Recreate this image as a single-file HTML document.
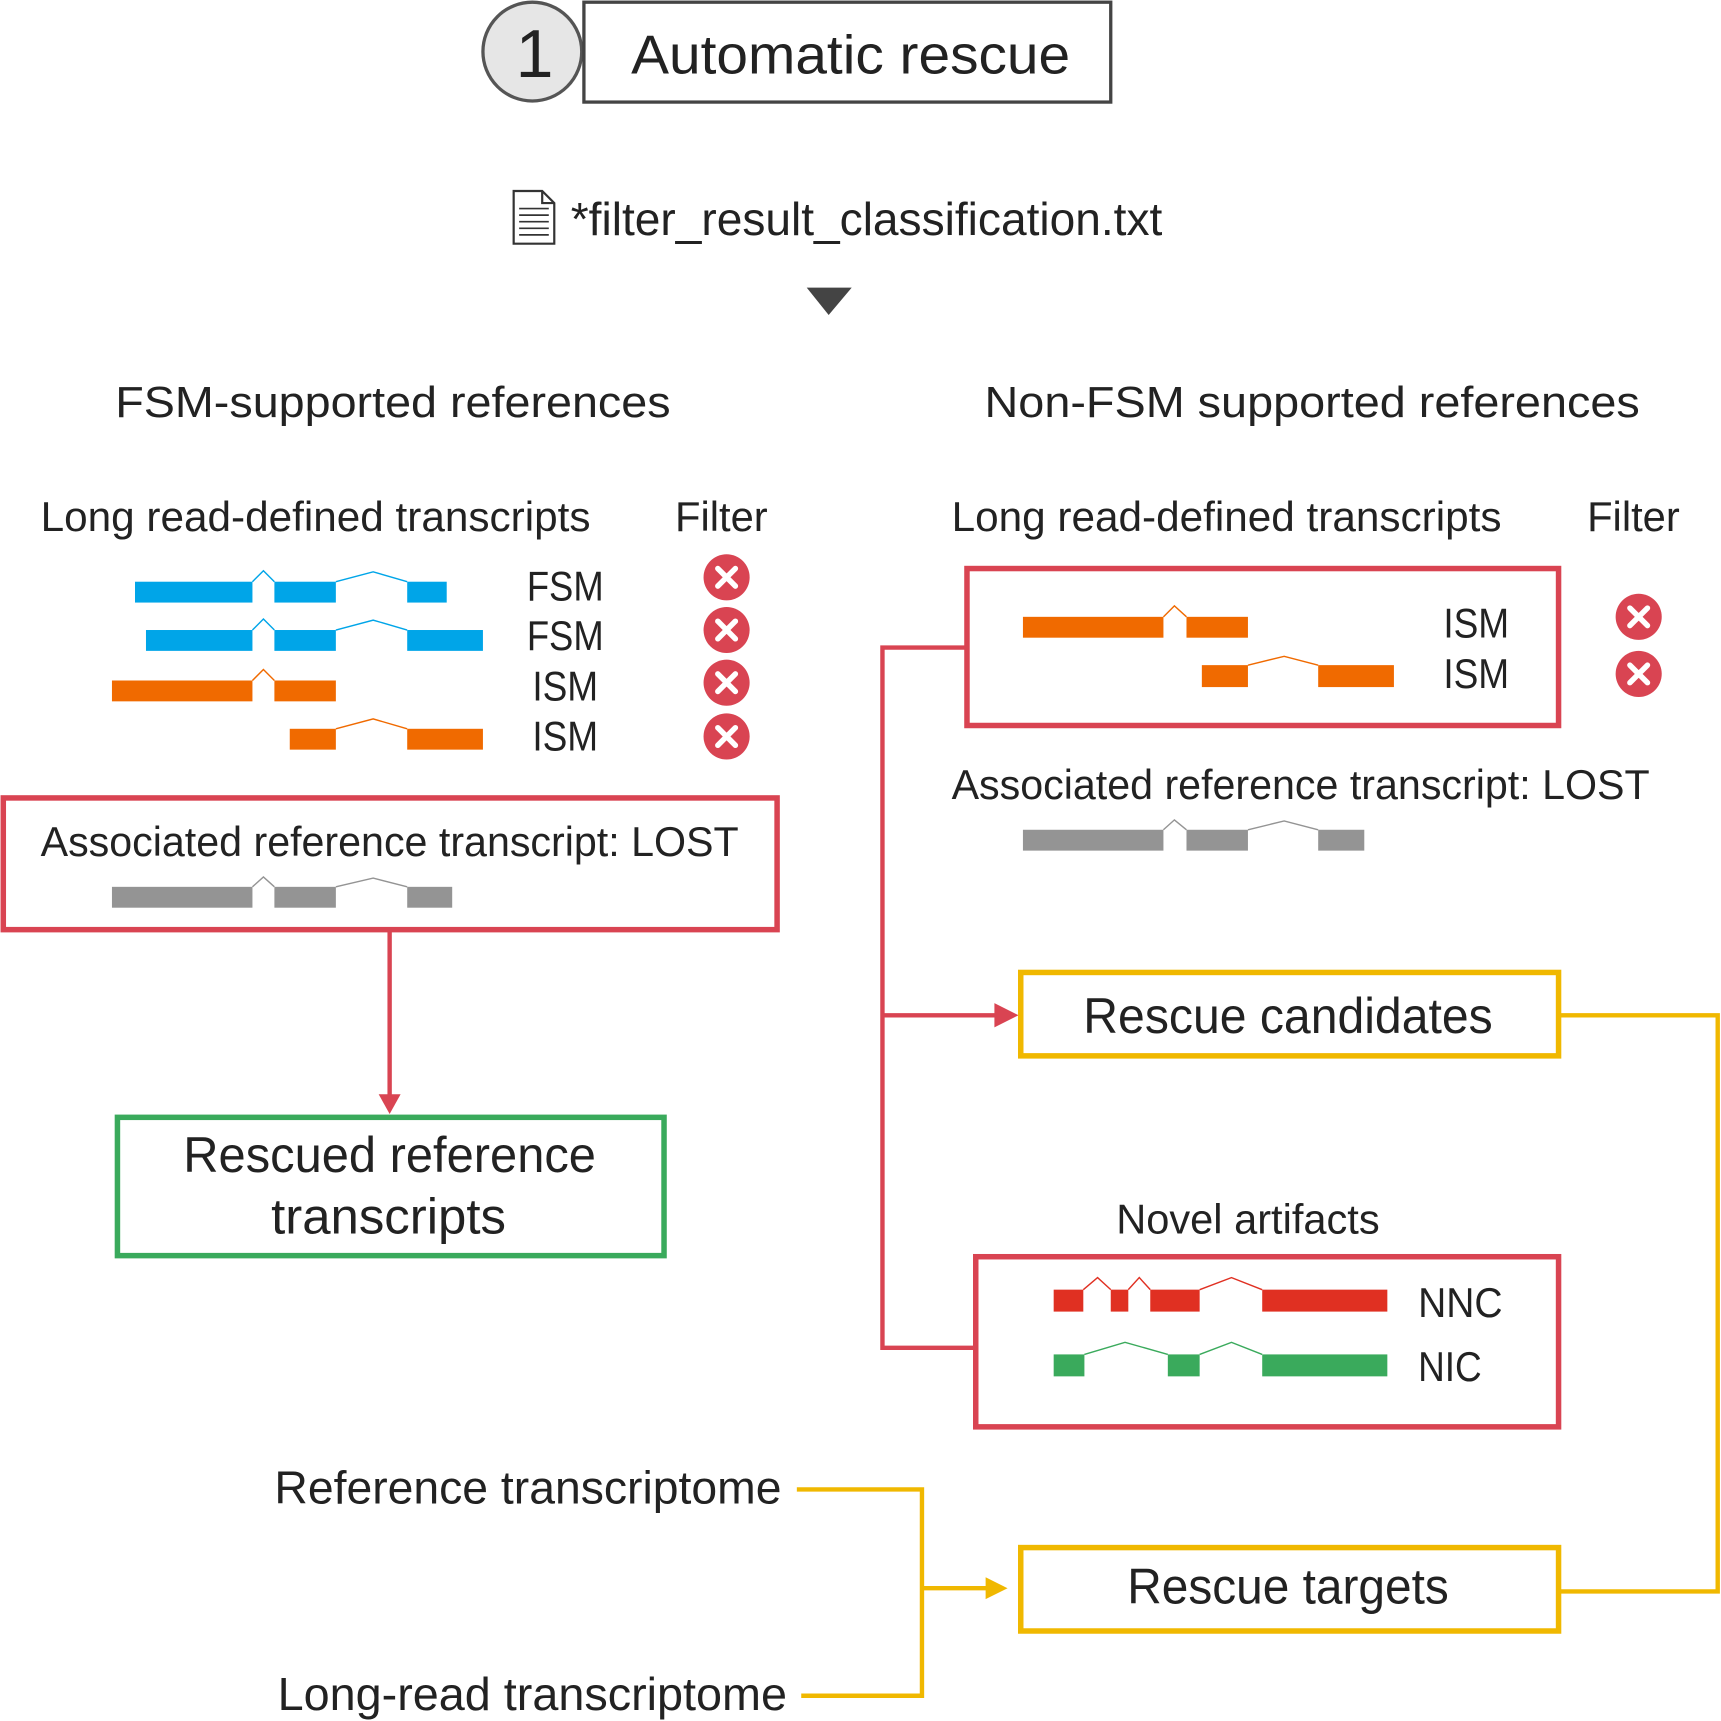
<!DOCTYPE html>
<html><head><meta charset="utf-8"><style>
html,body{margin:0;padding:0;background:#fff}
svg{display:block}
text{font-family:"Liberation Sans",sans-serif;fill:#222}
</style></head><body>
<svg width="1721" height="1721" viewBox="0 0 1568 1568" xmlns="http://www.w3.org/2000/svg">
<defs>
<g id="xi"><circle r="21" fill="#d94452"/><path d="M-8,-8L8,8M8,-8L-8,8" stroke="#fff" stroke-width="5" stroke-linecap="round"/></g>
</defs>
<!-- header -->
<circle cx="485" cy="47" r="45" fill="#e6e6e6" stroke="#555" stroke-width="3"/>
<text x="487" y="70" font-size="62" text-anchor="middle" fill="#333">1</text>
<rect x="532" y="2" width="480" height="91" fill="none" stroke="#444" stroke-width="3"/>
<text x="575" y="67" font-size="50" textLength="400" lengthAdjust="spacingAndGlyphs">Automatic rescue</text>
<!-- file icon -->
<path d="M468,174 H494 L505,185 V222 H468 Z" fill="#fff" stroke="#333" stroke-width="2"/>
<path d="M494,174 V185 H505" fill="none" stroke="#333" stroke-width="2"/>
<path d="M473,190H500M473,196H500M473,202H500M473,208H500M473,214H500" stroke="#333" stroke-width="1.5"/>
<text x="520" y="214" font-size="42" textLength="539" lengthAdjust="spacingAndGlyphs">*filter_result_classification.txt</text>
<path d="M735,262 L776,262 L755,287 Z" fill="#444"/>
<!-- headings -->
<text x="105" y="380" font-size="40" textLength="506" lengthAdjust="spacingAndGlyphs">FSM-supported references</text>
<text x="897" y="380" font-size="40" textLength="597" lengthAdjust="spacingAndGlyphs">Non-FSM supported references</text>
<text x="37" y="484" font-size="38" textLength="501" lengthAdjust="spacingAndGlyphs">Long read-defined transcripts</text>
<text x="615" y="484" font-size="38">Filter</text>
<text x="867" y="484" font-size="38" textLength="501" lengthAdjust="spacingAndGlyphs">Long read-defined transcripts</text>
<text x="1446" y="484" font-size="38">Filter</text>
<!-- left transcripts -->
<g fill="#00a5e8"><rect x="123" y="530" width="107" height="19"/><rect x="250" y="530" width="56" height="19"/><rect x="371" y="530" width="36" height="19"/>
<rect x="133" y="574" width="97" height="19"/><rect x="250" y="574" width="56" height="19"/><rect x="371" y="574" width="69" height="19"/></g>
<g fill="none" stroke="#00a5e8" stroke-width="1.3"><path d="M230,530L240,520L250,530M306,530L340,521L371,530M230,574L240,564L250,574M306,574L340,565L371,574"/></g>
<g fill="#f06a00"><rect x="102" y="620" width="128" height="19"/><rect x="250" y="620" width="56" height="19"/>
<rect x="264" y="664" width="42" height="19"/><rect x="371" y="664" width="69" height="19"/></g>
<g fill="none" stroke="#f06a00" stroke-width="1.3"><path d="M230,620L240,610L250,620M306,664L340,655L371,664"/></g>
<text x="480" y="547" font-size="38" textLength="70" lengthAdjust="spacingAndGlyphs">FSM</text><text x="480" y="592" font-size="38" textLength="70" lengthAdjust="spacingAndGlyphs">FSM</text>
<text x="485" y="638" font-size="38" textLength="60" lengthAdjust="spacingAndGlyphs">ISM</text><text x="485" y="684" font-size="38" textLength="60" lengthAdjust="spacingAndGlyphs">ISM</text>
<use href="#xi" x="662" y="526"/><use href="#xi" x="662" y="574"/><use href="#xi" x="662" y="622"/><use href="#xi" x="662" y="671"/>
<!-- left lost box -->
<rect x="3" y="727" width="705" height="120" fill="none" stroke="#d94452" stroke-width="5"/>
<text x="37" y="780" font-size="38" textLength="636" lengthAdjust="spacingAndGlyphs">Associated reference transcript: LOST</text>
<g fill="#949494"><rect x="102" y="808" width="128" height="19"/><rect x="250" y="808" width="56" height="19"/><rect x="371" y="808" width="41" height="19"/></g>
<path d="M230,808L240,799L250,808M306,808L340,800L371,808" fill="none" stroke="#949494" stroke-width="1.3"/>
<path d="M355,849V1000" stroke="#d94452" stroke-width="4"/>
<path d="M345,997L365,997L355,1015Z" fill="#d94452"/>
<rect x="107" y="1018" width="498" height="126" fill="none" stroke="#3aaa5c" stroke-width="5"/>
<text x="167" y="1068" font-size="46" textLength="376" lengthAdjust="spacingAndGlyphs">Rescued reference</text>
<text x="247" y="1124" font-size="46" textLength="214" lengthAdjust="spacingAndGlyphs">transcripts</text>
<!-- right -->
<rect x="881" y="518" width="539" height="143" fill="none" stroke="#d94452" stroke-width="5"/>
<g fill="#f06a00"><rect x="932" y="562" width="128" height="19"/><rect x="1081" y="562" width="56" height="19"/>
<rect x="1095" y="606" width="42" height="20"/><rect x="1201" y="606" width="69" height="20"/></g>
<path d="M1060,562L1070,552L1081,562M1137,606L1170,598L1201,606" fill="none" stroke="#f06a00" stroke-width="1.3"/>
<text x="1315" y="581" font-size="38" fill="#666" textLength="60" lengthAdjust="spacingAndGlyphs">ISM</text><text x="1315" y="627" font-size="38" fill="#666" textLength="60" lengthAdjust="spacingAndGlyphs">ISM</text>
<use href="#xi" x="1493" y="562"/><use href="#xi" x="1493" y="614"/>
<text x="867" y="728" font-size="38" textLength="636" lengthAdjust="spacingAndGlyphs">Associated reference transcript: LOST</text>
<g fill="#949494"><rect x="932" y="756" width="128" height="19"/><rect x="1081" y="756" width="56" height="19"/><rect x="1201" y="756" width="42" height="19"/></g>
<path d="M1060,756L1070,747L1081,756M1137,756L1170,748L1201,756" fill="none" stroke="#949494" stroke-width="1.3"/>
<path d="M881,590H804V1228H889" fill="none" stroke="#d94452" stroke-width="4"/>
<path d="M804,925H912" stroke="#d94452" stroke-width="4"/>
<path d="M906,914L928,925L906,936Z" fill="#d94452"/>
<rect x="930" y="886" width="490" height="76" fill="none" stroke="#f0b800" stroke-width="5"/>
<text x="987" y="941" font-size="46" textLength="373" lengthAdjust="spacingAndGlyphs">Rescue candidates</text>
<text x="1017" y="1124" font-size="38" textLength="240" lengthAdjust="spacingAndGlyphs">Novel artifacts</text>
<rect x="889" y="1145" width="531" height="155" fill="none" stroke="#d94452" stroke-width="5"/>
<g fill="#e03022"><rect x="960" y="1175" width="27" height="20"/><rect x="1012" y="1175" width="16" height="20"/><rect x="1048" y="1175" width="45" height="20"/><rect x="1150" y="1175" width="114" height="20"/></g>
<path d="M987,1175L1000,1164L1012,1175M1028,1175L1038,1164L1048,1175M1093,1175L1122,1164L1150,1175" fill="none" stroke="#e03022" stroke-width="1.3"/>
<g fill="#3aaa5c"><rect x="960" y="1234" width="28" height="20"/><rect x="1064" y="1234" width="29" height="20"/><rect x="1150" y="1234" width="114" height="20"/></g>
<path d="M988,1234L1025,1223L1064,1234M1093,1234L1122,1223L1150,1234" fill="none" stroke="#3aaa5c" stroke-width="1.3"/>
<text x="1292" y="1200" font-size="38" textLength="77" lengthAdjust="spacingAndGlyphs">NNC</text><text x="1292" y="1258" font-size="38" textLength="58" lengthAdjust="spacingAndGlyphs">NIC</text>
<path d="M1420,925H1565V1450H1420" fill="none" stroke="#f0b800" stroke-width="4"/>
<rect x="930" y="1410" width="490" height="76" fill="none" stroke="#f0b800" stroke-width="5"/>
<text x="1027" y="1461" font-size="46" textLength="293" lengthAdjust="spacingAndGlyphs">Rescue targets</text>
<text x="250" y="1370" font-size="42" textLength="462" lengthAdjust="spacingAndGlyphs">Reference transcriptome</text>
<text x="253" y="1558" font-size="42" textLength="464" lengthAdjust="spacingAndGlyphs">Long-read transcriptome</text>
<path d="M726,1357H840V1545H730" fill="none" stroke="#f0b800" stroke-width="4"/>
<path d="M840,1447H904" stroke="#f0b800" stroke-width="4"/>
<path d="M898,1437L918,1447L898,1457Z" fill="#f0b800"/>
</svg>
</body></html>
